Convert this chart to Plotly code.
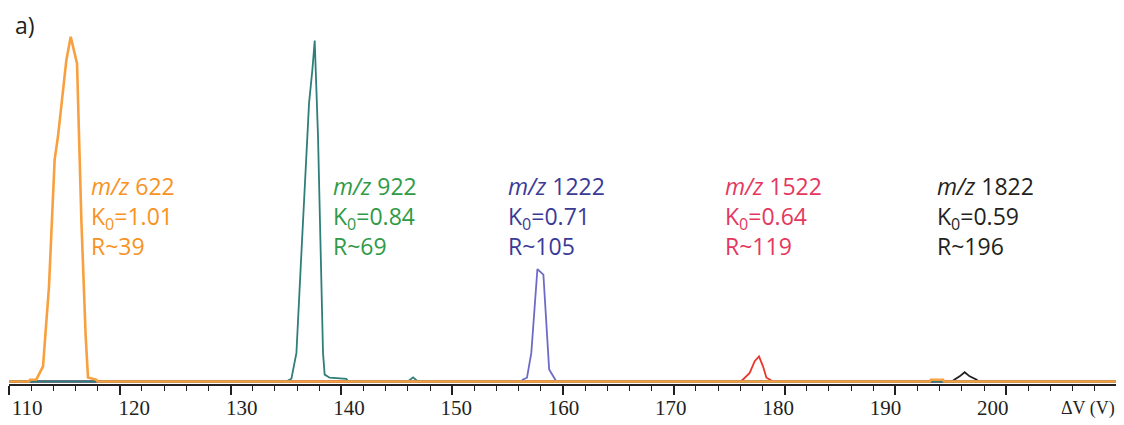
import plotly.graph_objects as go

# ---------------- data ----------------
# orange : m/z 622
x_622 = [110, 111.8, 111.9, 112.47, 113.07, 113.61, 114.12, 114.42, 115.18, 115.57, 116.14, 116.53,
         116.92, 117.13, 117.9, 118.0, 193.1, 193.2, 194.3, 194.4, 210]
y_622 = [0, 0, 0.005, 0.006, 0.044, 0.276, 0.643, 0.710, 0.932, 0.999, 0.922, 0.469,
         0.131, 0.012, 0.005, 0, 0, 0.005, 0.005, 0, 0]
# teal : m/z 922
x_922 = [110, 135.0, 135.49, 135.94, 136.39, 136.84, 137.08, 137.38, 137.59, 137.89, 138.10, 138.34,
         138.49, 138.94, 140.45, 140.6, 146.0, 146.47, 146.9, 210]
y_922 = [0, 0, 0.008, 0.083, 0.372, 0.662, 0.807, 0.903, 0.988, 0.710, 0.372, 0.083,
         0.020, 0.011, 0.008, 0, 0, 0.012, 0, 0]
# blue : m/z 1222
x_1222 = [110, 156.2, 156.39, 156.75, 157.14, 157.53, 157.69, 158.23, 158.54, 158.75, 159.2, 159.4, 210]
y_1222 = [0, 0, 0.006, 0.011, 0.083, 0.237, 0.326, 0.310, 0.160, 0.035, 0.011, 0, 0]
# red : m/z 1522
x_1522 = [110, 176.0, 176.25, 176.85, 177.3, 177.69, 178.05, 178.36, 178.66, 178.9, 210]
y_1522 = [0, 0, 0.006, 0.025, 0.059, 0.073, 0.044, 0.011, 0.006, 0, 0]
# black : m/z 1822
x_1822 = [110, 195.1, 195.35, 195.8, 196.25, 196.7, 197.3, 197.5, 210]
y_1822 = [0, 0, 0.006, 0.015, 0.027, 0.015, 0.006, 0, 0]

mz_labels = ["622", "922", "1222", "1522", "1822"]
k0_values = ["1.01", "0.84", "0.71", "0.64", "0.59"]
r_values = ["39", "69", "105", "119", "196"]

tick_marks = [110, 120, 130, 140, 150, 160, 170, 180, 190, 200, 210]
tick_labels = [110, 120, 130, 140, 150, 160, 170, 180, 190, 200]

# ---------------- styling ----------------
line_colors = ["#F8A040", "#2F7E7A", "#6C6CC6", "#E8362C", "#231F20"]
text_colors = ["#F7931E", "#2F9A47", "#3A3A96", "#E5375E", "#231F20"]
label_x = [117.2, 139.07, 154.82, 174.42, 193.57]   # left edge of each label block (data units)
label_y = 0.48                                      # middle of each three-line block

series = [(x_1822, y_1822, 4), (x_1522, y_1522, 3), (x_1222, y_1222, 2),
          (x_922, y_922, 1), (x_622, y_622, 0)]

fig = go.Figure()
for xs, ys, i in series:
    fig.add_trace(go.Scatter(x=xs, y=ys, mode="lines",
                             line=dict(color=line_colors[i], width=2.6 if i == 0 else 1.8),
                             hoverinfo="skip", showlegend=False))
# carrier trace for the tick-label axis (nothing visible)
fig.add_trace(go.Scatter(x=tick_labels, y=[None] * len(tick_labels), xaxis="x2", mode="markers",
                         hoverinfo="skip", showlegend=False))

sans = "Open Sans"
ann = []
for i in range(5):
    text = (f"<i>m/z</i> {mz_labels[i]}<br>"
            f"K<sub>0</sub>={k0_values[i]}<br>"
            f"R~{r_values[i]}")
    ann.append(dict(x=label_x[i], y=label_y, xref="x", yref="y", text=text,
                    showarrow=False, xanchor="left", yanchor="middle", align="left",
                    font=dict(family=sans, size=23, color=text_colors[i])))

ann.append(dict(x=1.0, y=-0.066, xref="paper", yref="paper", text="ΔV (V)",
                showarrow=False, xanchor="right", yanchor="middle",
                font=dict(family="Liberation Serif", size=18, color="#231F20")))
ann.append(dict(x=0.0036, y=0.986, xref="paper", yref="paper", text="a)",
                showarrow=False, xanchor="left", yanchor="middle",
                font=dict(family=sans, size=23, color="#231F20")))

serif = dict(family="Liberation Serif", size=21, color="#231F20")
fig.update_layout(
    width=1124, height=425,
    # the page body adds an 8 px offset; margins compensate so the plot sits where the original does
    margin=dict(l=1, r=15, t=12, b=49, autoexpand=False),
    paper_bgcolor="white", plot_bgcolor="white",
    annotations=ann,
    xaxis=dict(range=[110, 210], tickmode="array", tickvals=tick_marks, showticklabels=False,
               automargin=False,
               showgrid=False, zeroline=False, showline=True, linecolor="#231F20", linewidth=1.6,
               ticks="outside", ticklen=9, tickwidth=1.6, tickcolor="#231F20",
               minor=dict(dtick=2, tick0=110, ticks="outside", ticklen=5, tickwidth=1.4,
                          tickcolor="#231F20", showgrid=False)),
    # tick labels of the original figure are set on a slightly different scale
    xaxis2=dict(overlaying="x", side="bottom", anchor="y", range=[108.32, 211.58], tickmode="array",
                tickvals=tick_labels, ticks="", showline=False, showgrid=False, zeroline=False,
                automargin=False, ticklabelstandoff=9, tickfont=serif),
    yaxis=dict(range=[-0.0072, 1.0478], visible=False, showgrid=False, zeroline=False),
)

fig.write_html("out.html")
